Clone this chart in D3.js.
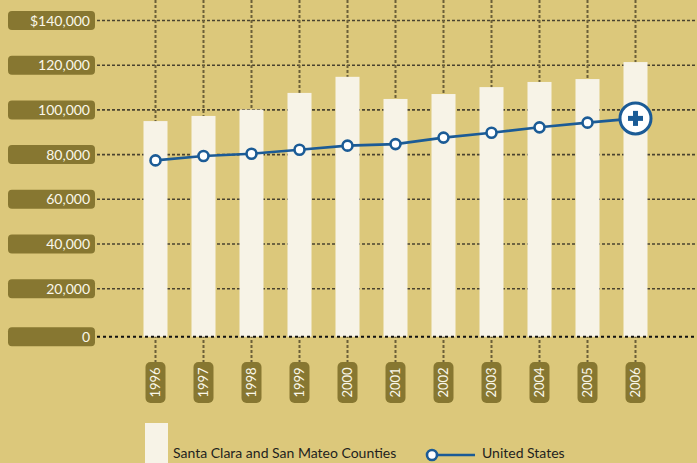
<!DOCTYPE html>
<html>
<head>
<meta charset="utf-8">
<script src="https://cdn.jsdelivr.net/npm/d3@7/dist/d3.min.js"></script>
<style>
  html, body { margin: 0; padding: 0; background: #dcc87b; }
  svg { display: block; }
  text { font-family: Lato, "Open Sans", sans-serif; }
</style>
</head>
<body>
<svg id="chart" width="697" height="463"></svg>
<script>
const years = ["1996","1997","1998","1999","2000","2001","2002","2003","2004","2005","2006"];
const countyIncome = [95000, 97300, 100100, 107600, 114800, 104900, 107100, 110200, 112500, 113800, 121400];
const usIncome = [77400, 79400, 80400, 82200, 84000, 84700, 87600, 89800, 92200, 94300, 96200];
const yTicks = [0, 20000, 40000, 60000, 80000, 100000, 120000, 140000];
const yTickLabels = ["0", "20,000", "40,000", "60,000", "80,000", "100,000", "120,000", "$140,000"];
const legendLabels = ["Santa Clara and San Mateo Counties", "United States"];

const W = 697, H = 463;
const bg = "#dcc87b", boxCol = "#877731", barCol = "#f7f3e7", blue = "#1b5b96";
const svg = d3.select("#chart");
svg.append("rect").attr("width", W).attr("height", H).attr("fill", bg);

const x = d3.scaleBand().domain(years).range([131.5, 659.5]).paddingInner(0.5).paddingOuter(0.25);
const y = d3.scaleLinear().domain([0, 140000]).range([333.4, 20.5]);
const zeroShift = 3.3;
const yPos = v => v === 0 ? y(0) + zeroShift : y(v);
const cx = d => x(d) + x.bandwidth() / 2;

// horizontal grid lines
svg.append("g").selectAll("line").data(yTicks.filter(v => v !== 0)).join("line")
  .attr("x1", 97).attr("x2", W)
  .attr("y1", d => yPos(d)).attr("y2", d => yPos(d))
  .attr("stroke", "#4a4330").attr("stroke-width", 1.6)
  .attr("stroke-dasharray", "3,2");

// vertical grid lines
svg.append("g").selectAll("line").data(years).join("line")
  .attr("x1", d => cx(d)).attr("x2", d => cx(d))
  .attr("y1", 0).attr("y2", 362)
  .attr("stroke", "#6b5f38").attr("stroke-width", 2)
  .attr("stroke-dasharray", "3,2");

// bars
svg.append("g").selectAll("rect").data(years).join("rect")
  .attr("x", d => x(d)).attr("width", x.bandwidth())
  .attr("y", (d, i) => y(countyIncome[i]))
  .attr("height", (d, i) => yPos(0) - y(countyIncome[i]))
  .attr("fill", barCol);

// zero baseline
svg.append("line")
  .attr("x1", 97).attr("x2", W).attr("y1", yPos(0)).attr("y2", yPos(0))
  .attr("stroke", "#111").attr("stroke-width", 2).attr("stroke-dasharray", "3,3");

// y labels
const yl = svg.append("g").selectAll("g").data(yTicks).join("g")
  .attr("transform", d => `translate(0,${yPos(d)})`);
yl.append("rect").attr("x", 8).attr("y", -9.5).attr("width", 87).attr("height", 19)
  .attr("rx", 4).attr("fill", boxCol);
yl.append("text").attr("x", 90).attr("y", 5).attr("text-anchor", "end")
  .attr("font-size", 14).attr("fill", "#fbf7ea")
  .text((d, i) => yTickLabels[i]);

// x labels
const xl = svg.append("g").selectAll("g").data(years).join("g")
  .attr("transform", d => `translate(${cx(d)},382.5)`);
xl.append("rect").attr("x", -10).attr("y", -20.5).attr("width", 20).attr("height", 41)
  .attr("rx", 5).attr("fill", boxCol);
xl.append("text").attr("transform", "rotate(-90)")
  .attr("text-anchor", "middle").attr("dy", "0.36em")
  .attr("font-size", 13).attr("fill", "#fbf7ea")
  .text(d => d);

// US line
const line = d3.line().x((d, i) => cx(years[i])).y(d => y(d));
svg.append("path").datum(usIncome).attr("d", line)
  .attr("fill", "none").attr("stroke", blue).attr("stroke-width", 2.6);

svg.append("g").selectAll("circle").data(usIncome.slice(0, -1)).join("circle")
  .attr("cx", (d, i) => cx(years[i])).attr("cy", d => y(d)).attr("r", 5)
  .attr("fill", "#fff").attr("stroke", blue).attr("stroke-width", 2.6);

// last point: large marker with plus
const li = usIncome.length - 1;
const lx = cx(years[li]), ly = y(usIncome[li]);
svg.append("circle").attr("cx", lx).attr("cy", ly).attr("r", 15.5)
  .attr("fill", "#fff").attr("stroke", blue).attr("stroke-width", 3);
svg.append("rect").attr("x", lx - 7.5).attr("y", ly - 2.5).attr("width", 15).attr("height", 5).attr("fill", blue);
svg.append("rect").attr("x", lx - 2.5).attr("y", ly - 7.5).attr("width", 5).attr("height", 15).attr("fill", blue);

// legend
svg.append("rect").attr("x", 145).attr("y", 423).attr("width", 23).attr("height", 45).attr("fill", barCol);
svg.append("text").attr("x", 173).attr("y", 458).attr("font-size", 14).attr("fill", "#231f20").text(legendLabels[0]);
svg.append("line").attr("x1", 432).attr("x2", 475).attr("y1", 455).attr("y2", 455)
  .attr("stroke", blue).attr("stroke-width", 2.6);
svg.append("circle").attr("cx", 432).attr("cy", 455).attr("r", 5)
  .attr("fill", "#fff").attr("stroke", blue).attr("stroke-width", 2.6);
svg.append("text").attr("x", 482).attr("y", 458).attr("font-size", 14).attr("fill", "#231f20").text(legendLabels[1]);
</script>
</body>
</html>
